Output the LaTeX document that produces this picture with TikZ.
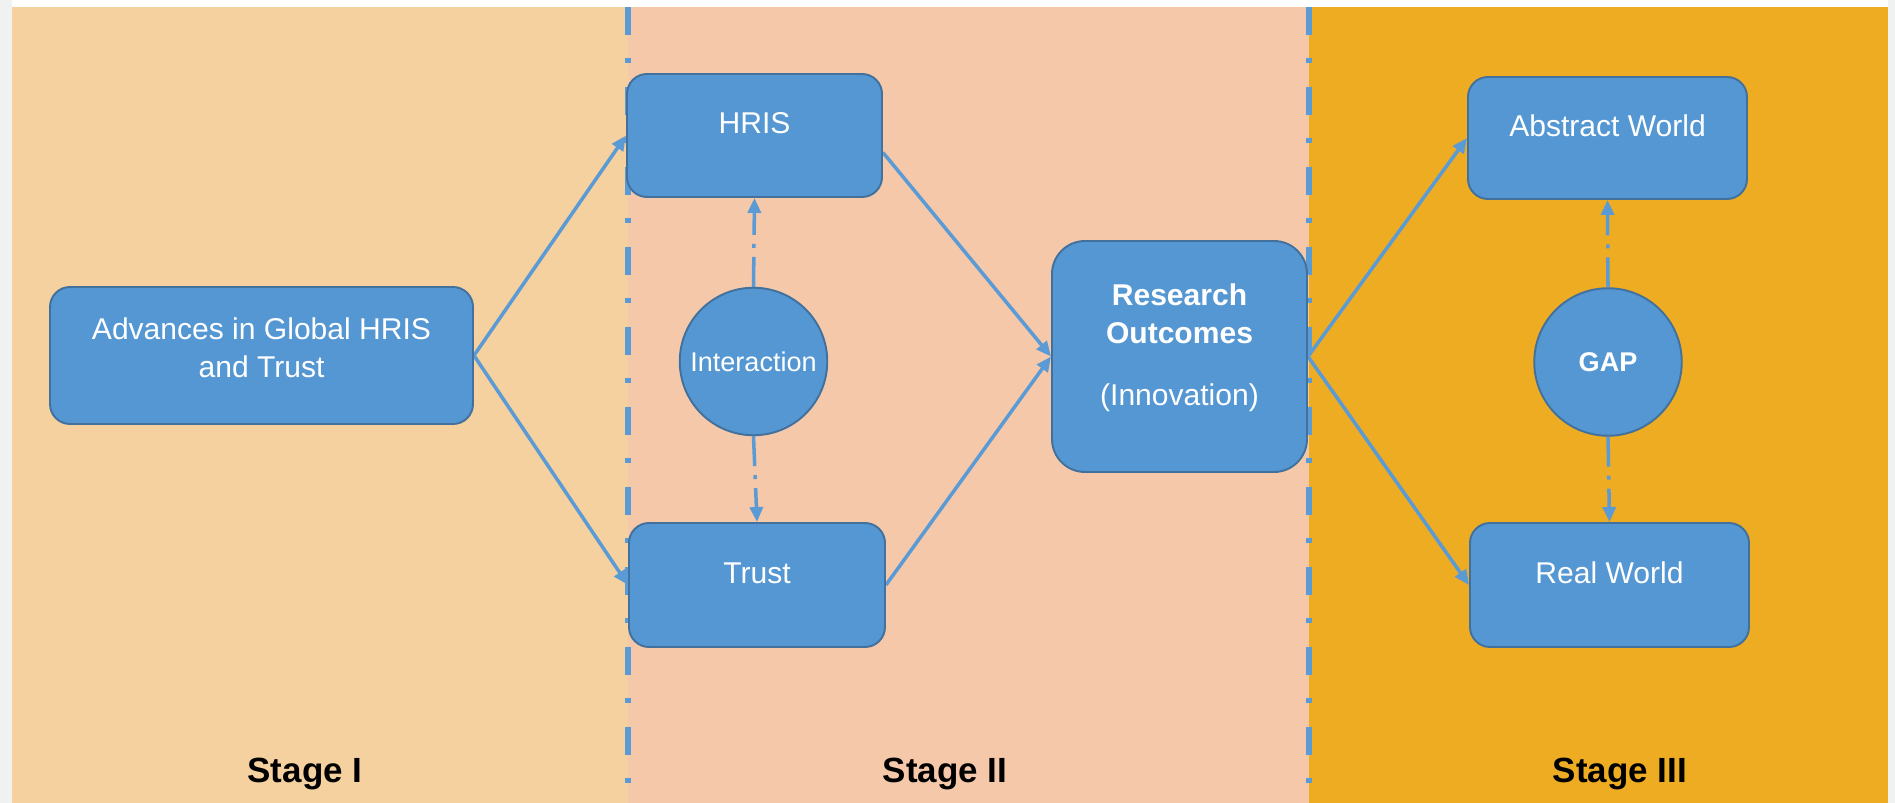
\documentclass[tikz,border=0pt]{standalone}
\usepackage{fontspec}
\setmainfont{Liberation Sans}
\usepackage{tikz}
\usetikzlibrary{arrows.meta}
\pgfdeclarelayer{bglayer}
\pgfdeclarelayer{edgelayer}
\pgfdeclarelayer{nodelayer}
\pgfsetlayers{bglayer,edgelayer,nodelayer,main}
\definecolor{stageone}{HTML}{F4D19F}
\definecolor{stagetwo}{HTML}{F6C8AA}
\definecolor{stagethree}{HTML}{EEAC23}
\definecolor{boxfill}{HTML}{5597D3}
\definecolor{boxline}{HTML}{41719C}
\definecolor{arrowblue}{HTML}{5B9BD5}
\definecolor{pagegray}{HTML}{F0F2F2}
\tikzstyle{none}=[inner sep=0pt]
\tikzstyle{block}=[rectangle, rounded corners=0.4cm, draw=boxline, line width=1.1pt, fill=boxfill, text=white, font=\fontsize{17.1}{21.5}\selectfont, align=center, inner sep=0pt]
\tikzstyle{oneline}=[text height=0.44cm, text depth=0.5cm]
\tikzstyle{bubble}=[circle, draw=boxline, line width=1.1pt, fill=boxfill, text=white, font=\fontsize{15.4}{18}\selectfont, minimum size=2.95cm, inner sep=0pt]
\tikzstyle{stage}=[anchor=base, inner sep=0pt, font=\fontsize{19.9}{24}\selectfont\bfseries]
\tikzstyle{flow}=[draw=arrowblue, line width=2pt, -{Triangle[length=0.3cm,width=0.26cm]}]
\tikzstyle{link}=[flow, dash pattern=on 0.6cm off 0.18cm on 0.08cm off 0.18cm]
\tikzstyle{divider}=[draw=arrowblue, line width=0.12cm, dash pattern=on 0.56cm off 0.46cm on 0.1cm off 0.48cm]

\begin{document}
\begin{tikzpicture}
	\useasboundingbox (0, 0) rectangle (37.9, -16.06);
	\begin{pgfonlayer}{bglayer}
		\fill [pagegray] (0, 0) rectangle (37.9, -16.06);
		\fill [white] (0.24, 0) rectangle (37.76, -0.14);
		\fill [stageone] (0.24, -0.14) rectangle (12.56, -16.06);
		\fill [stagetwo] (12.56, -0.14) rectangle (26.18, -16.06);
		\fill [stagethree] (26.18, -0.14) rectangle (37.76, -16.06);
		\coordinate (11) at (12.56, -0.14);
		\coordinate (12) at (12.56, -16.06);
		\coordinate (13) at (26.18, -0.14);
		\coordinate (14) at (26.18, -16.06);
		\draw [style=divider] (11) to (12);
		\draw [style=divider] (13) to (14);
	\end{pgfonlayer}
	\begin{pgfonlayer}{nodelayer}
		\node [style=block, minimum width=8.46cm, minimum height=2.74cm] (0) at (5.23, -7.11) {Advances in Global HRIS\\and Trust\rule[-0.32cm]{0pt}{0pt}};
		\node [style=block, style=oneline, minimum width=5.1cm, minimum height=2.46cm] (1) at (15.09, -2.71) {HRIS};
		\node [style=block, style=oneline, minimum width=5.12cm, minimum height=2.48cm] (2) at (15.14, -11.7) {Trust};
		\node [style=bubble] (3) at (15.07, -7.23) {Interaction};
		\node [style=block, rounded corners=0.66cm, minimum width=5.1cm, minimum height=4.62cm] (4) at (23.59, -7.13) {\textbf{Research}\\\textbf{Outcomes}\\[0.5cm](Innovation)\rule[-0.47cm]{0pt}{0pt}};
		\node [style=block, style=oneline, minimum width=5.58cm, minimum height=2.44cm] (5) at (32.15, -2.76) {Abstract World};
		\node [style=block, style=oneline, minimum width=5.58cm, minimum height=2.48cm] (6) at (32.19, -11.7) {Real World};
		\node [style=bubble] (7) at (32.16, -7.24) {\textbf{GAP}};
		\node [style=stage] (8) at (6.1, -15.64) {Stage I};
		\node [style=stage] (9) at (18.9, -15.64) {Stage II};
		\node [style=stage] (10) at (32.4, -15.64) {Stage III};
	\end{pgfonlayer}
	\begin{pgfonlayer}{edgelayer}
		\draw [style=flow] (0.east) to (1.west);
		\draw [style=flow] (0.east) to (2.west);
		\draw [style=flow] ([yshift=-0.34cm]1.east) to (4.west);
		\draw [style=flow] (2.east) to (4.west);
		\draw [style=flow] (4.east) to (5.west);
		\draw [style=flow] (4.east) to (6.west);
		\draw [style=link] (3.north) to (1.south);
		\draw [style=link] (3.south) to (2.north);
		\draw [style=link] (7.north) to (5.south);
		\draw [style=link] (7.south) to (6.north);
	\end{pgfonlayer}
\end{tikzpicture}
\end{document}
